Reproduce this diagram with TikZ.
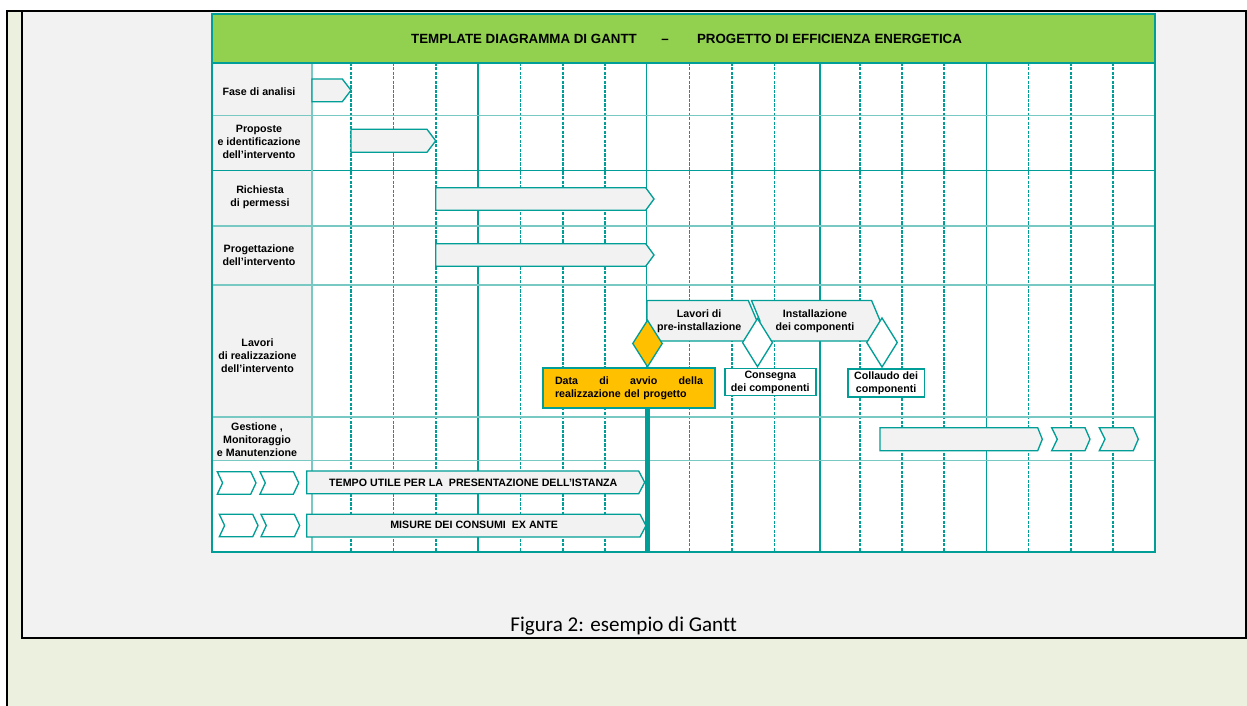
\documentclass[tikz,border=0pt]{standalone}
\usepackage{fontspec}
\setmainfont{Liberation Sans}
\newfontfamily\captionfont[Ligatures=NoCommon]{Carlito}
\definecolor{gantteal}{RGB}{0,158,150}
\definecolor{ganttlight}{RGB}{120,200,196}
\definecolor{titlegreen}{RGB}{146,208,80}
\definecolor{startorange}{RGB}{255,192,0}
\definecolor{cellgray}{RGB}{242,242,242}
\definecolor{pagegreen}{RGB}{235,241,222}
\usetikzlibrary{shapes.geometric}

\begin{document}
\begin{tikzpicture}[x=0.75pt, y=-0.75pt,
  bar/.style={draw=gantteal, fill=cellgray, line width=1pt},
  lbl/.style={font=\bfseries\fontsize{8}{9.75}\selectfont, align=center, inner sep=0pt},
  titletext/.style={font=\bfseries\fontsize{10}{12}\selectfont, anchor=base, inner sep=0pt},
  griddash/.style={draw=gantteal, line width=1.2pt, dash pattern=on 2.4pt off 1pt},
  gridsolid/.style={draw=gantteal, line width=0.9pt},
  rowline/.style={draw=ganttlight, line width=1.1pt},
  labelbox/.style={lbl, draw=gantteal, fill=white, line width=1.4pt},
  eventdiamond/.style={diamond, draw=gantteal, fill=white, line width=1pt, inner sep=0pt}]
  \useasboundingbox (0,0) rectangle (1247,706);

  % Page cell
  \fill[white] (0,0) rectangle (1247,706);
  \fill[pagegreen] (7,11) rectangle (1247,706);
  \filldraw[fill=cellgray, draw=black, line width=1.5pt] (21.5,11.5) rectangle (1245.5,637.7);
  \draw[line width=1.6pt] (7,706) -- (7,11) -- (1247,11);

  % Chart area
  \fill[white] (212,62.7) rectangle (1155,551.7);
  \fill[cellgray] (212,62.7) rectangle (312,460.3);

  % Weeks
  \foreach \x in {351,393.3,435.7,520.3,562.7,605,689.5,732,774.5,860,901.7,943.7,1028.3,1070.7,1112.7}
    \draw[griddash] (\x,62.7) -- (\x,551.7);
  \foreach \x in {478,646.7,820,986.7}
    \draw[gridsolid] (\x,62.7) -- (\x,551.7);

  % Rows
  \foreach \y in {115.7,226,285,417,460.3}
    \draw[rowline] (212,\y) -- (1155,\y);
  \draw[gridsolid] (212,170.3) -- (1155,170.3);
  \draw[rowline] (312,62.7) -- (312,551.7);

  % Title band
  \filldraw[fill=titlegreen, draw=gantteal, line width=1.5pt] (212,14) rectangle (1155,62.7);
  \draw[gantteal, line width=1.5pt] (212,14) rectangle (1155,551.7);
  \node[titletext] (titolo) at (524,43.7) {TEMPLATE DIAGRAMMA DI GANTT};
  \node[titletext] (trattino) at (665,43.7) {–};
  \node[titletext] (progetto) at (829.5,43.7) {PROGETTO DI EFFICIENZA ENERGETICA};

  % Phase labels
  \node[lbl] (analisi) at (259,91.3) {Fase di analisi};
  \node[lbl] (proposte) at (259,142.3) {Proposte\\e identificazione\\dell’intervento};
  \node[lbl] (permessi) at (260,196.8) {Richiesta\\di permessi};
  \node[lbl] (progettazione) at (259,255.2) {Progettazione\\dell’intervento};
  \node[lbl] (lavori) at (257.5,355.3) {Lavori\\di realizzazione\\dell’intervento};
  \node[lbl] (gestione) at (257,439.3) {Gestione ,\\Monitoraggio\\e Manutenzione};

  % Bars
  \draw[bar] (312,79) -- (342.3,79) -- (351,90.3) -- (342.3,101.7) -- (312,101.7) -- cycle;
  \draw[bar] (351,129.3) -- (427,129.3) -- (435.7,140.8) -- (427,152.3) -- (351,152.3) -- cycle;
  \draw[bar] (435.7,187.7) -- (645.7,187.7) -- (654,199) -- (645.7,210.3) -- (435.7,210.3) -- cycle;
  \draw[bar] (435.7,243.7) -- (645.7,243.7) -- (654,255) -- (645.7,266.3) -- (435.7,266.3) -- cycle;

  % Works
  \draw[bar] (751.5,300.5) -- (871.6,300.5) -- (880.2,321) -- (871.6,341) -- (751.5,341) -- (760,321) -- cycle;
  \draw[bar] (647,300.5) -- (748.3,300.5) -- (757,321) -- (748.3,341) -- (647,341) -- cycle;
  \node[lbl] (preinst) at (699.2,320.8) {Lavori di\\pre-installazione};
  \node[lbl] (install) at (815,320.8) {Installazione\\dei componenti};

  % Management
  \draw[bar] (880,427.7) -- (1037.7,427.7) -- (1042.3,439.2) -- (1037.7,450.7) -- (880,450.7) -- cycle;
  \draw[bar] (1051.7,427.7) -- (1085,427.7) -- (1090,439.2) -- (1085,450.7) -- (1051.7,450.7) -- (1057.3,439.2) -- cycle;
  \draw[bar] (1099.3,427.7) -- (1133.3,427.7) -- (1138.3,439.2) -- (1133.3,450.7) -- (1099.3,450.7) -- (1105,439.2) -- cycle;

  % Bottom rows
  \foreach \x/\y in {217.3/471.7, 260/471.7, 219.3/514.3, 261/514.3}
    \draw[bar, fill=white] (\x,\y) -- ++(33.4,0) -- ++(5.3,11.2) -- ++(-5.3,11.3) -- ++(-33.4,0) -- ++(5.3,-11.3) -- cycle;
  \draw[bar] (306.7,471) -- (638.7,471) -- (644.7,482.4) -- (638.7,493.7) -- (306.7,493.7) -- cycle;
  \draw[bar] (306.7,514.3) -- (640,514.3) -- (646,525.7) -- (640,537) -- (306.7,537) -- cycle;
  \node[lbl] (tempo) at (473.3,483.2) {TEMPO UTILE PER LA\ \ PRESENTAZIONE DELL’ISTANZA};
  \node[lbl] (misure) at (474.2,525.3) {MISURE DEI CONSUMI\ \ EX ANTE};

  % Start of works
  \node[eventdiamond, fill=startorange, minimum width=22.5pt, minimum height=35.25pt] (rombo) at (647.5,343.5) {};
  \node[lbl, draw=gantteal, fill=startorange, line width=1.4pt, align=left, text width=111pt,
        inner xsep=9.2pt, minimum height=30pt] (avvio) at (629,388.3)
        {Data\hfill di\hfill avvio\hfill della\\realizzazione del progetto};
  \coordinate (fine) at (647.3,551.7);
  \draw[gantteal, line width=4pt] (fine |- avvio.south) -- (fine);

  % Milestones
  \node[eventdiamond, minimum width=22.8pt, minimum height=36.5pt] (rombo consegna) at (757.5,342.6) {};
  \node[eventdiamond, minimum width=23.3pt, minimum height=37.2pt] (rombo collaudo) at (882,342.5) {};
  \node[labelbox, minimum width=68.6pt, minimum height=20.25pt] (consegna) at (770.3,382) {Consegna\\dei componenti};
  \node[labelbox, minimum width=57.6pt, minimum height=20.5pt] (collaudo) at (886.1,383) {Collaudo dei\\componenti};

  % Caption
  \node[font=\captionfont\fontsize{15.8}{19}\selectfont, anchor=base] (didascalia) at (623.7,631) {Figura 2: esempio di Gantt};
\end{tikzpicture}
\end{document}
